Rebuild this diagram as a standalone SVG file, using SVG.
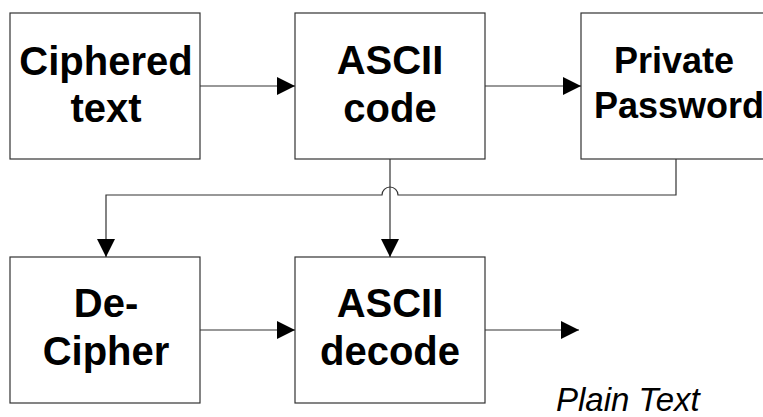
<svg xmlns="http://www.w3.org/2000/svg" width="763" height="417" viewBox="0 0 763 417">
  <defs>
    <marker id="arrow" markerUnits="userSpaceOnUse" markerWidth="18" markerHeight="18" viewBox="0 0 18 18" refX="18" refY="9" orient="auto">
      <path d="M0,0 L18,9 L0,18 Z" fill="#000"/>
    </marker>
    <style>
      .box { fill: #fff; stroke: #333; stroke-width: 1.2; }
      .lbl { font-family: "Liberation Sans", Arial, sans-serif; font-weight: bold; font-size: 40px; fill: #000; text-anchor: middle; }
      .small { font-size: 36px; }
      .wire { fill: none; stroke: #333; stroke-width: 1.2; }
      .note { font-family: "Liberation Sans", Arial, sans-serif; font-style: italic; font-size: 33px; fill: #000; }
    </style>
  </defs>

  <g id="ciphered-text">
    <rect class="box" x="10" y="13" width="190" height="146"/>
    <text class="lbl" x="106" y="75">Ciphered</text>
    <text class="lbl" x="106" y="122">text</text>
  </g>

  <g id="ascii-code">
    <rect class="box" x="295" y="13" width="190" height="146"/>
    <text class="lbl" x="390" y="74">ASCII</text>
    <text class="lbl" x="390" y="122">code</text>
  </g>

  <g id="private-password">
    <rect class="box" x="581" y="13" width="192" height="146"/>
    <text class="lbl small" x="674" y="73">Private</text>
    <text class="lbl small" x="679" y="118">Password</text>
  </g>

  <g id="de-cipher">
    <rect class="box" x="10" y="257" width="190" height="146"/>
    <text class="lbl" x="106" y="317">De-</text>
    <text class="lbl" x="106" y="365">Cipher</text>
  </g>

  <g id="ascii-decode">
    <rect class="box" x="295" y="257" width="190" height="146"/>
    <text class="lbl" x="390" y="317">ASCII</text>
    <text class="lbl" x="390" y="365">decode</text>
  </g>

  <g id="plain-text">
    <text class="note" x="556" y="411">Plain Text</text>
  </g>

  <g id="connectors">
    <path class="wire" d="M200,86 H295" marker-end="url(#arrow)"/>
    <path class="wire" d="M485,86 H581" marker-end="url(#arrow)"/>
    <path class="wire" d="M676,159 V195 H398 A8,8 0 0 0 382,195 H106 V257" marker-end="url(#arrow)"/>
    <path class="wire" d="M390,159 V257" marker-end="url(#arrow)"/>
    <path class="wire" d="M200,330 H295" marker-end="url(#arrow)"/>
    <path class="wire" d="M485,330 H579" marker-end="url(#arrow)"/>
  </g>
</svg>
